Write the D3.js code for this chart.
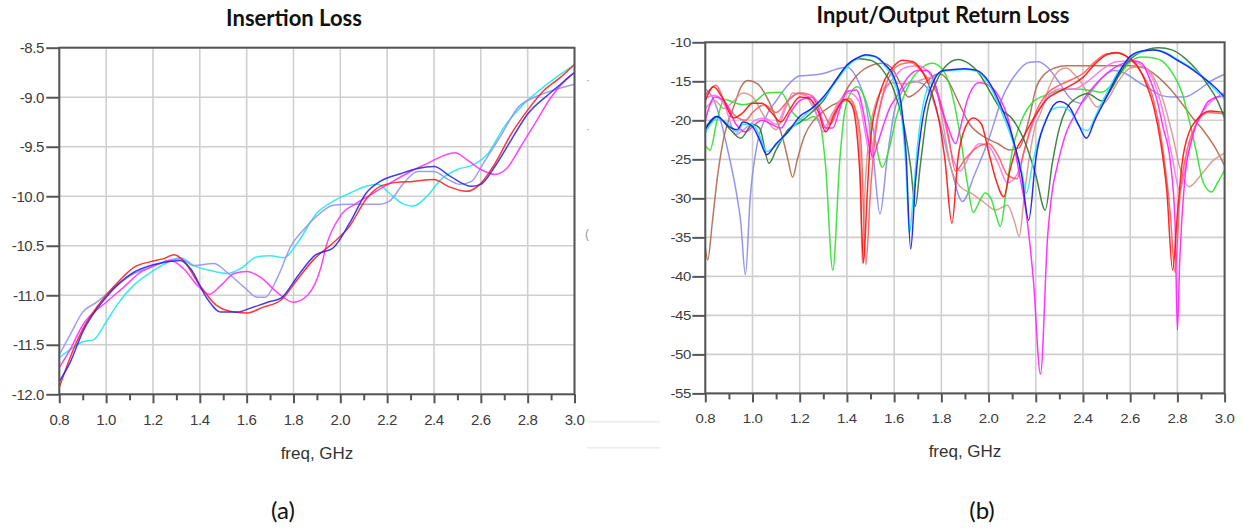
<!DOCTYPE html>
<html><head><meta charset="utf-8">
<script src="https://cdn.jsdelivr.net/npm/d3@7"></script>
<style>
body{margin:0;background:#fff;}
svg{display:block;}
text{font-family:"Liberation Sans",Arial,sans-serif;}
</style>
</head><body>
<svg id="c" width="1243" height="531"></svg>
<script>
// ---------- tick labels ----------
const freqMajor = [0.8,1.0,1.2,1.4,1.6,1.8,2.0,2.2,2.4,2.6,2.8,3.0];
const freqMinor = [0.9,1.1,1.3,1.5,1.7,1.9,2.1,2.3,2.5,2.7,2.9];
const ilTicks = [-8.5,-9.0,-9.5,-10.0,-10.5,-11.0,-11.5,-12.0];
const rlTicks = [-10,-15,-20,-25,-30,-35,-40,-45,-50,-55];

// ---------- (a) Insertion Loss, [freq GHz, dB] ----------
const ilRed = [[0.8,-11.93],[0.846,-11.63],[0.903,-11.33],[1.0,-11.0],[1.046,-10.88],[1.117,-10.72],[1.19,-10.66],[1.246,-10.63],[1.29,-10.59],[1.33,-10.65],[1.4,-10.9],[1.47,-11.1],[1.546,-11.17],[1.6,-11.18],[1.67,-11.12],[1.746,-11.05],[1.82,-10.83],[1.89,-10.63],[1.97,-10.47],[2.04,-10.3],[2.11,-10.03],[2.17,-9.9],[2.24,-9.86],[2.31,-9.85],[2.4,-9.83],[2.46,-9.9],[2.54,-9.95],[2.6,-9.87],[2.66,-9.67],[2.73,-9.37],[2.8,-9.13],[2.87,-8.93],[2.94,-8.8],[3.0,-8.67]];
const ilBlue = [[0.8,-11.87],[0.846,-11.68],[0.9,-11.37],[1.0,-11.02],[1.117,-10.77],[1.19,-10.7],[1.246,-10.67],[1.317,-10.65],[1.36,-10.73],[1.43,-11.03],[1.49,-11.17],[1.56,-11.17],[1.617,-11.13],[1.69,-11.07],[1.746,-11.03],[1.82,-10.8],[1.89,-10.6],[1.97,-10.52],[2.04,-10.27],[2.11,-9.97],[2.17,-9.85],[2.26,-9.77],[2.33,-9.72],[2.4,-9.7],[2.47,-9.8],[2.56,-9.9],[2.6,-9.88],[2.66,-9.7],[2.73,-9.43],[2.8,-9.17],[2.89,-8.97],[2.96,-8.83],[3.0,-8.75]];
const ilLavender = [[0.8,-11.6],[0.846,-11.4],[0.9,-11.17],[0.96,-11.07],[1.046,-10.9],[1.117,-10.78],[1.19,-10.72],[1.26,-10.65],[1.317,-10.63],[1.374,-10.7],[1.46,-10.68],[1.517,-10.77],[1.59,-10.92],[1.646,-11.02],[1.68,-11.02],[1.73,-10.83],[1.79,-10.5],[1.846,-10.33],[1.9,-10.2],[1.97,-10.09],[2.04,-10.08],[2.11,-10.08],[2.17,-10.08],[2.21,-10.05],[2.27,-9.87],[2.33,-9.75],[2.4,-9.75],[2.46,-9.83],[2.51,-9.88],[2.56,-9.85],[2.61,-9.67],[2.69,-9.37],[2.76,-9.1],[2.83,-9.0],[2.91,-8.93],[3.0,-8.87]];
const ilCyan = [[0.8,-11.63],[0.846,-11.55],[0.9,-11.47],[0.946,-11.45],[1.0,-11.27],[1.046,-11.1],[1.117,-10.9],[1.19,-10.77],[1.26,-10.67],[1.317,-10.62],[1.374,-10.7],[1.446,-10.75],[1.517,-10.78],[1.574,-10.73],[1.646,-10.61],[1.7,-10.6],[1.76,-10.62],[1.817,-10.47],[1.9,-10.17],[1.97,-10.05],[2.04,-9.97],[2.11,-9.9],[2.16,-9.88],[2.21,-9.97],[2.27,-10.08],[2.31,-10.1],[2.37,-10.0],[2.43,-9.83],[2.5,-9.73],[2.57,-9.68],[2.63,-9.57],[2.7,-9.3],[2.77,-9.1],[2.83,-8.97],[2.91,-8.82],[3.0,-8.67]];
const ilMagenta = [[0.8,-11.73],[0.846,-11.55],[0.9,-11.3],[1.0,-11.07],[1.074,-10.92],[1.146,-10.77],[1.217,-10.69],[1.274,-10.65],[1.33,-10.73],[1.39,-10.9],[1.44,-10.99],[1.49,-10.9],[1.546,-10.78],[1.6,-10.76],[1.66,-10.82],[1.73,-10.97],[1.8,-11.07],[1.86,-11.0],[1.917,-10.72],[1.94,-10.5],[2.0,-10.2],[2.07,-10.07],[2.14,-9.97],[2.21,-9.87],[2.3,-9.75],[2.37,-9.67],[2.43,-9.6],[2.49,-9.56],[2.54,-9.63],[2.6,-9.73],[2.66,-9.78],[2.71,-9.72],[2.77,-9.5],[2.83,-9.27],[2.9,-9.0],[2.96,-8.83],[3.0,-8.75]];

// ---------- (b) Input/Output Return Loss, [freq GHz, dB] ----------
const rlBlue = [[0.8,-21.2],[0.85,-19.5],[0.9,-20.8],[0.935,-21.2],[0.96,-20.2],[1.0,-20.8],[1.03,-22.5],[1.06,-24.4],[1.1,-23],[1.15,-21.5],[1.2,-19.5],[1.25,-18.5],[1.3,-17],[1.35,-15],[1.4,-12.9],[1.45,-11.9],[1.48,-11.6],[1.52,-11.8],[1.56,-12.8],[1.6,-14.5],[1.63,-18],[1.65,-24],[1.67,-36.5],[1.69,-28],[1.72,-20],[1.76,-15.5],[1.8,-13.7],[1.85,-13.5],[1.9,-13.4],[1.95,-13.6],[2.0,-15],[2.05,-18],[2.1,-22],[2.14,-27],[2.17,-32.8],[2.2,-25],[2.25,-19.5],[2.3,-17.6],[2.34,-18.2],[2.38,-20.5],[2.415,-22.3],[2.45,-20],[2.5,-17],[2.55,-14],[2.6,-11.8],[2.65,-11.1],[2.7,-11],[2.75,-11.4],[2.8,-12.3],[2.85,-13.2],[2.9,-14.3],[2.95,-15.5],[3.0,-17]];
const rlCyan = [[0.8,-21.6],[0.85,-19.8],[0.9,-20.5],[0.935,-21.5],[0.96,-20.5],[1.0,-20.5],[1.03,-22],[1.06,-24],[1.1,-23.2],[1.15,-21.5],[1.2,-20],[1.25,-18.5],[1.3,-17.2],[1.35,-15.2],[1.4,-13.2],[1.45,-12],[1.48,-11.7],[1.52,-11.9],[1.56,-13],[1.6,-15],[1.63,-19],[1.65,-26],[1.665,-34.5],[1.68,-30],[1.7,-23],[1.73,-17],[1.77,-14.5],[1.8,-13.8],[1.85,-13.6],[1.9,-13.5],[1.95,-13.7],[2.0,-15.3],[2.05,-18.5],[2.1,-22.5],[2.14,-26.5],[2.16,-29.3],[2.19,-25],[2.23,-21],[2.27,-18.6],[2.31,-18.3],[2.35,-19],[2.39,-21],[2.42,-21.3],[2.46,-19],[2.5,-16.5],[2.55,-13.8],[2.6,-11.9],[2.65,-11.2],[2.7,-11],[2.75,-11.3],[2.8,-12.2],[2.85,-13.1],[2.9,-14.2],[2.95,-15.8],[3.0,-17.3]];
const rlDarkGreen = [[0.8,-21],[0.85,-19.5],[0.9,-21],[0.95,-22.3],[1.0,-20.5],[1.03,-21],[1.07,-25.5],[1.1,-23.8],[1.15,-21.2],[1.2,-20.3],[1.25,-19],[1.3,-17.5],[1.35,-15],[1.4,-13],[1.45,-12.1],[1.5,-12.3],[1.55,-13.5],[1.6,-16.2],[1.64,-20.5],[1.67,-26],[1.69,-31],[1.71,-26],[1.74,-19],[1.78,-15],[1.82,-13],[1.87,-12.2],[1.92,-12.8],[1.96,-14],[2.0,-16],[2.05,-18.5],[2.1,-19.8],[2.15,-22.5],[2.2,-27],[2.24,-31.5],[2.27,-25.5],[2.3,-21],[2.33,-18.5],[2.37,-17.2],[2.42,-16.6],[2.48,-17.5],[2.52,-16],[2.56,-13.8],[2.6,-12.2],[2.65,-11.2],[2.72,-10.7],[2.78,-11],[2.83,-12],[2.88,-13.5],[2.93,-15.5],[2.97,-17.5],[3.0,-19.7]];
const rlGreen = [[0.8,-23.2],[0.82,-23.8],[0.85,-20],[0.88,-17.3],[0.92,-17.7],[0.96,-18],[1.01,-17.6],[1.06,-16.5],[1.12,-16.4],[1.17,-19],[1.22,-20],[1.26,-19.5],[1.29,-21],[1.31,-26],[1.34,-39.2],[1.37,-25],[1.39,-19],[1.42,-16.3],[1.445,-15.7],[1.48,-17.5],[1.51,-21],[1.55,-26],[1.58,-23.5],[1.61,-19.5],[1.64,-17],[1.68,-14.5],[1.72,-13.2],[1.76,-12.7],[1.8,-13.3],[1.84,-16],[1.88,-22],[1.91,-28],[1.935,-31.8],[1.96,-30.5],[1.985,-29.3],[2.01,-30],[2.035,-32.5],[2.05,-33.6],[2.075,-29],[2.1,-24],[2.14,-20],[2.19,-17.6],[2.25,-16.7],[2.3,-16.2],[2.36,-16],[2.42,-16.1],[2.48,-16.4],[2.52,-15.5],[2.56,-14],[2.6,-12.5],[2.65,-11.9],[2.7,-12],[2.74,-12.5],[2.78,-14],[2.82,-16.5],[2.85,-20],[2.88,-24],[2.91,-28],[2.945,-29.2],[2.97,-28],[3.0,-26.4]];
const rlRed = [[0.8,-17.5],[0.835,-15.7],[0.87,-17],[0.92,-19.7],[0.96,-19],[1.0,-17.8],[1.04,-17.8],[1.08,-19],[1.12,-20.2],[1.16,-18.5],[1.2,-17],[1.24,-17.2],[1.28,-19],[1.31,-21.5],[1.35,-19],[1.39,-17.3],[1.42,-18],[1.44,-21],[1.455,-27],[1.47,-38.3],[1.485,-30],[1.5,-22.5],[1.53,-17.5],[1.56,-14.8],[1.6,-13],[1.635,-12.3],[1.68,-12.5],[1.72,-13.8],[1.76,-16.5],[1.79,-20],[1.815,-25],[1.845,-33.2],[1.87,-25],[1.9,-21],[1.935,-19.7],[1.97,-20.5],[2.0,-24],[2.03,-27.5],[2.065,-29.8],[2.09,-26.5],[2.11,-24.3],[2.15,-22],[2.2,-19.3],[2.25,-17.2],[2.3,-16.3],[2.35,-15.5],[2.4,-14.5],[2.45,-12.8],[2.5,-11.6],[2.54,-11.3],[2.58,-11.7],[2.63,-13],[2.67,-15.5],[2.7,-18.3],[2.73,-23],[2.755,-29],[2.78,-39.2],[2.8,-32],[2.82,-25.5],[2.85,-21.5],[2.88,-20],[2.94,-18.8],[3.0,-19]];
const rlLightRed = [[0.8,-16.8],[0.845,-15.5],[0.88,-17.5],[0.93,-19.5],[0.97,-20],[1.0,-19],[1.05,-18],[1.1,-19],[1.15,-17.5],[1.2,-16.5],[1.25,-16.8],[1.3,-19],[1.33,-20.5],[1.37,-18],[1.41,-17.2],[1.44,-19],[1.46,-23],[1.48,-38.5],[1.5,-29],[1.52,-22],[1.55,-17],[1.59,-13.8],[1.63,-12.8],[1.67,-12.6],[1.71,-13.5],[1.75,-15],[1.8,-18],[1.83,-22],[1.86,-26.5],[1.9,-25],[1.95,-23.5],[2.0,-23],[2.04,-24.5],[2.08,-27],[2.12,-27.5],[2.15,-24],[2.2,-19],[2.25,-16.5],[2.3,-15.5],[2.35,-14.8],[2.4,-14],[2.45,-12.5],[2.5,-11.5],[2.55,-11.4],[2.6,-12.2],[2.65,-14],[2.7,-17.5],[2.74,-24],[2.77,-32],[2.79,-39.5],[2.81,-30],[2.84,-24],[2.88,-20.5],[2.93,-19],[3.0,-19.2]];
const rlMagenta = [[0.8,-20],[0.84,-17],[0.88,-17.5],[0.93,-20.5],[0.97,-21.5],[1.0,-20.8],[1.04,-20],[1.08,-20.5],[1.12,-21],[1.16,-19],[1.2,-17.5],[1.25,-17],[1.28,-18.5],[1.31,-21],[1.34,-21],[1.37,-18.5],[1.4,-16.3],[1.44,-16.1],[1.47,-19],[1.49,-22.5],[1.51,-24.7],[1.53,-23],[1.555,-20.6],[1.58,-18.5],[1.61,-17],[1.66,-14.4],[1.7,-13.6],[1.74,-13.6],[1.77,-15],[1.8,-18.5],[1.83,-21],[1.86,-23],[1.88,-21],[1.91,-17.4],[1.96,-15.2],[2.01,-15.7],[2.05,-17.3],[2.08,-19.5],[2.11,-23.5],[2.13,-26.8],[2.16,-32],[2.19,-40.5],[2.22,-52.5],[2.25,-35],[2.27,-29],[2.29,-26],[2.33,-21.5],[2.37,-19.1],[2.41,-17],[2.45,-15.5],[2.5,-14],[2.57,-12.7],[2.62,-12.4],[2.65,-12.7],[2.68,-14.5],[2.71,-17],[2.74,-21],[2.77,-25.3],[2.79,-33],[2.8,-46.9],[2.81,-38],[2.83,-28],[2.86,-22.5],[2.9,-19.2],[2.93,-17.6],[2.97,-17],[3.0,-16.9]];
const rlPink = [[0.8,-17.2],[0.84,-16.8],[0.88,-18],[0.93,-21.8],[0.97,-21],[1.01,-20],[1.05,-19.7],[1.1,-20.5],[1.15,-17.5],[1.2,-16.5],[1.25,-17.5],[1.28,-20],[1.3,-21.5],[1.33,-20],[1.37,-17.5],[1.41,-16.5],[1.45,-17.5],[1.48,-22],[1.5,-25],[1.52,-21],[1.55,-17],[1.6,-14.5],[1.65,-13.2],[1.7,-13],[1.75,-14],[1.79,-17],[1.82,-21],[1.85,-25],[1.88,-26.5],[1.92,-24.5],[1.96,-23],[2.0,-23.3],[2.04,-25.5],[2.08,-28],[2.12,-27],[2.16,-23],[2.2,-19.5],[2.25,-17],[2.3,-16],[2.36,-16],[2.42,-15],[2.48,-13.5],[2.54,-12.5],[2.6,-12.4],[2.65,-13],[2.7,-15],[2.74,-19],[2.78,-25],[2.81,-29],[2.84,-25],[2.88,-20.5],[2.93,-18],[2.97,-17],[3.0,-16.5]];
const rlBrown = [[0.8,-36.2],[0.81,-37.9],[0.83,-33],[0.85,-27.6],[0.88,-22],[0.92,-18.3],[0.95,-15.8],[0.98,-14.9],[1.02,-15.3],[1.06,-17],[1.1,-19.8],[1.13,-22.5],[1.15,-25],[1.17,-27.3],[1.19,-25],[1.22,-22],[1.26,-20],[1.29,-19.1],[1.33,-18.2],[1.37,-17.5],[1.41,-15.5],[1.45,-14],[1.5,-13],[1.55,-12.7],[1.59,-13.3],[1.63,-15.5],[1.66,-17],[1.7,-16.3],[1.74,-15],[1.79,-14],[1.83,-15],[1.87,-17.5],[1.92,-20.5],[1.98,-22.1],[2.04,-23],[2.09,-23.8],[2.13,-23.5],[2.17,-20],[2.2,-16],[2.24,-14],[2.28,-13.3],[2.33,-13],[2.4,-13],[2.5,-13],[2.6,-13],[2.66,-13.3],[2.72,-14.5],[2.77,-16],[2.81,-17.5],[2.86,-19.5],[2.91,-21.3],[2.96,-23.5],[3.0,-25.8]];
const rlRosy = [[0.8,-18.5],[0.84,-17.5],[0.88,-18.5],[0.92,-17.5],[0.96,-16.5],[1.0,-17],[1.05,-19.5],[1.1,-21.2],[1.14,-18.5],[1.17,-16.5],[1.22,-16.8],[1.26,-18.5],[1.3,-21],[1.34,-19],[1.37,-17.6],[1.41,-17.5],[1.44,-19.5],[1.455,-24],[1.465,-38.4],[1.475,-30],[1.49,-23],[1.52,-18],[1.56,-15.8],[1.6,-15.2],[1.65,-15.3],[1.7,-15],[1.75,-14.5],[1.78,-16],[1.81,-21],[1.84,-26],[1.88,-28.5],[1.93,-29.4],[1.98,-30.5],[2.03,-31.5],[2.08,-30.9],[2.11,-33],[2.13,-34.9],[2.15,-30],[2.17,-25.3],[2.2,-20.5],[2.22,-19.1],[2.26,-15.5],[2.3,-13.6],[2.33,-13.3],[2.36,-14],[2.4,-15.5],[2.43,-17.2],[2.46,-18.3],[2.5,-17.5],[2.55,-15],[2.6,-13.3],[2.65,-13.1],[2.7,-14.5],[2.74,-17.5],[2.78,-22],[2.81,-26],[2.85,-28.5],[2.9,-27],[2.95,-25.2],[3.0,-24.2]];
const rlLavender = [[0.8,-16],[0.83,-17],[0.86,-19.5],[0.9,-24.5],[0.93,-29],[0.95,-33],[0.97,-39.8],[0.99,-30],[1.02,-23],[1.05,-20],[1.1,-17.5],[1.15,-15.5],[1.2,-14.3],[1.25,-14.2],[1.3,-14],[1.35,-13.5],[1.4,-13.2],[1.44,-14.5],[1.48,-18],[1.51,-24],[1.54,-32],[1.57,-25],[1.6,-19],[1.64,-16],[1.68,-15],[1.72,-15.3],[1.76,-17],[1.8,-21],[1.84,-26],[1.89,-30.4],[1.94,-27],[2.0,-22.5],[2.06,-17],[2.12,-13.9],[2.17,-12.6],[2.21,-12.5],[2.25,-13.2],[2.3,-15.2],[2.35,-17.3],[2.39,-17.8],[2.43,-16.5],[2.48,-14.6],[2.53,-13.6],[2.58,-14],[2.63,-15],[2.68,-15.9],[2.73,-16.8],[2.78,-17],[2.83,-17],[2.88,-16.3],[2.94,-15],[3.0,-14.1]];

// ---------- drawing ----------
const svg = d3.select("#c");
const fmt1 = d => d.toFixed(1);

function panel(cfg){
  const x = d3.scaleLinear().domain([0.8,3.0]).range([cfg.x0,cfg.x1]);
  const y = d3.scaleLinear().domain(cfg.ydom).range([cfg.yb,cfg.yt]);
  const g = svg.append("g");
  // grid
  g.append("g").selectAll("line").data(freqMajor).join("line")
    .attr("x1",d=>x(d)).attr("x2",d=>x(d)).attr("y1",cfg.yt).attr("y2",cfg.yb)
    .attr("stroke","#cfcfcf").attr("stroke-width",1.6);
  g.append("g").selectAll("line").data(cfg.yticks).join("line")
    .attr("x1",cfg.x0).attr("x2",cfg.x1).attr("y1",d=>y(d)).attr("y2",d=>y(d))
    .attr("stroke","#cfcfcf").attr("stroke-width",1.6);
  // series
  const line = d3.line().x(d=>x(d[0])).y(d=>y(d[1])).curve(d3.curveMonotoneX);
  const clipId = "clip"+cfg.id;
  svg.append("clipPath").attr("id",clipId).append("rect")
    .attr("x",cfg.x0).attr("y",cfg.yt).attr("width",cfg.x1-cfg.x0).attr("height",cfg.yb-cfg.yt);
  const sg = g.append("g").attr("clip-path",`url(#${clipId})`);
  cfg.series.forEach(s=>{
    sg.append("path").datum(s.data).attr("d",line).attr("fill","none")
      .attr("stroke",s.color).attr("stroke-width",cfg.lw).attr("stroke-opacity",s.op||0.9)
      .attr("stroke-linejoin","round");
  });
  // frame
  g.append("rect").attr("x",cfg.x0).attr("y",cfg.yt).attr("width",cfg.x1-cfg.x0).attr("height",cfg.yb-cfg.yt)
    .attr("fill","none").attr("stroke","#555").attr("stroke-width",2);
  // ticks via axes
  const ax = g.append("g").attr("transform",`translate(0,${cfg.yb})`)
    .call(d3.axisBottom(x).tickValues(freqMajor).tickSize(9).tickFormat(""));
  const axm = g.append("g").attr("transform",`translate(0,${cfg.yb})`)
    .call(d3.axisBottom(x).tickValues(freqMinor).tickSize(6).tickFormat(""));
  const ay = g.append("g").attr("transform",`translate(${cfg.x0},0)`)
    .call(d3.axisLeft(y).tickValues(cfg.yticks).tickSize(13).tickFormat(""));
  [ax,axm,ay].forEach(a=>{a.select(".domain").remove(); a.selectAll("line").attr("stroke","#555").attr("stroke-width",2);});
  // labels
  const sy = cfg.textScaleY;
  g.append("g").selectAll("text").data(freqMajor).join("text")
    .attr("transform",d=>`translate(${x(d)},${cfg.xlabBase}) scale(1,${sy})`)
    .attr("text-anchor","middle").attr("font-size",15).attr("fill","#3c3c3c").attr("letter-spacing","-0.4")
    .text(d=>fmt1(d));
  g.append("g").selectAll("text").data(cfg.yticks).join("text")
    .attr("transform",d=>`translate(${cfg.ylabX},${y(d)+cfg.ylabOff}) scale(1,${sy})`)
    .attr("text-anchor","end").attr("font-size",15).attr("fill","#3c3c3c").attr("letter-spacing","-0.4")
    .text(d=>cfg.yfmt(d));
  // titles
  svg.append("text").attr("x",cfg.titleX).attr("y",cfg.titleY).attr("text-anchor","middle")
    .attr("font-weight","bold").attr("font-size",22)
    .attr("fill","#111").style("font-family","Lato, 'Open Sans', sans-serif").text(cfg.title);
  svg.append("text").attr("x",cfg.xtitleX).attr("y",cfg.xtitleY).attr("text-anchor","middle")
    .attr("font-size",17).attr("fill","#333").text("freq, GHz");
  svg.append("text").attr("x",cfg.capX).attr("y",519).attr("text-anchor","middle")
    .style("font-family","Lato, 'Open Sans', sans-serif").attr("font-size",24).attr("fill","#111").text(cfg.cap);
}

panel({id:"a", x0:59.3, x1:574.5, yt:47.7, yb:394.3, ydom:[-12,-8.5], yticks:ilTicks, lw:1.5,
  yfmt:d=>fmt1(d), ylabX:44, ylabOff:5.3, xlabBase:424.5, textScaleY:1,
  title:"Insertion Loss", titleX:294, titleY:26, xtitleX:317, xtitleY:459, cap:"(a)", capX:283,
  series:[
    {data:ilCyan, color:"#22e8ec"},
    {data:ilLavender, color:"#9494ee"},
    {data:ilMagenta, color:"#ff30ff"},
    {data:ilRed, color:"#ff2020"},
    {data:ilBlue, color:"#2a2aee"}
  ]});

panel({id:"b", x0:705.3, x1:1224.6, yt:42.3, yb:393.4, ydom:[-55,-10], yticks:rlTicks, lw:1.5,
  yfmt:d=>String(d), ylabX:691, ylabOff:4.3, xlabBase:422.5, textScaleY:0.8,
  title:"Input/Output Return Loss", titleX:943, titleY:23, xtitleX:965, xtitleY:457, cap:"(b)", capX:982,
  series:[
    {data:rlLavender, color:"#8a8aee"},
    {data:rlBrown, color:"#b0684c"},
    {data:rlRosy, color:"#d8968a"},
    {data:rlGreen, color:"#2ee02e"},
    {data:rlPink, color:"#ff70f0"},
    {data:rlLightRed, color:"#ff5a5a"},
    {data:rlMagenta, color:"#ff20ff"},
    {data:rlRed, color:"#ff1010"},
    {data:rlDarkGreen, color:"#2e7a2e"},
    {data:rlCyan, color:"#20e8f0"},
    {data:rlBlue, color:"#1515ee"}
  ]});

// faint cropping remnants between the panels
svg.append("g").selectAll("line").data([421.7,447.7]).join("line")
  .attr("x1",587).attr("x2",660).attr("y1",d=>d).attr("y2",d=>d)
  .attr("stroke","#ececec").attr("stroke-width",1.5);
svg.append("g").selectAll("text").data([[586,84,"·"],[586,133,"·"],[585,238,"("]]).join("text")
  .attr("x",d=>d[0]).attr("y",d=>d[1]).attr("font-size",12).attr("fill","#999").text(d=>d[2]);
</script>
</body></html>
